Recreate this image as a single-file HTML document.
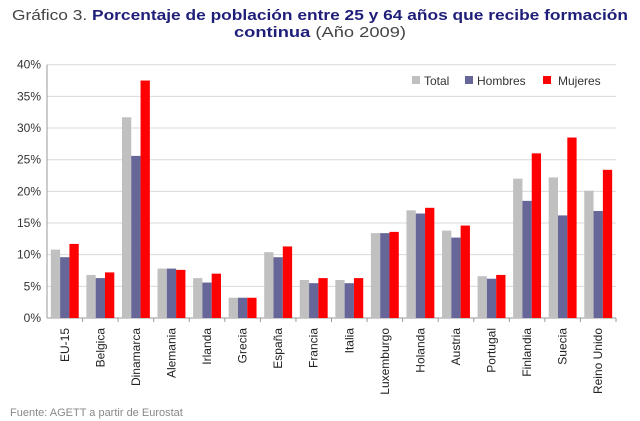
<!DOCTYPE html>
<html><head><meta charset="utf-8"><style>
html,body{margin:0;padding:0;background:#fff;}
svg{display:block;font-family:"Liberation Sans",sans-serif;}
</style></head><body>
<svg id="chart" width="640" height="421" viewBox="0 0 640 421" xmlns="http://www.w3.org/2000/svg">
<text x="320" y="20" text-anchor="middle" font-size="15" fill="#1f1f7a" textLength="616" lengthAdjust="spacingAndGlyphs"><tspan fill="#444" font-weight="normal">Gráfico 3. </tspan><tspan font-weight="bold">Porcentaje de población entre 25 y 64 años que recibe formación</tspan></text>
<text x="320" y="37" text-anchor="middle" font-size="15" fill="#1f1f7a" textLength="172" lengthAdjust="spacingAndGlyphs"><tspan font-weight="bold">continua</tspan><tspan fill="#444"> (Año 2009)</tspan></text>
<g id="grid"></g><g id="bars"></g><g id="axes"></g>
<g>
<rect x="412" y="76" width="8" height="8" fill="#c0c0c0"/>
<text x="424" y="85" font-size="12" fill="#333">Total</text>
<rect x="465" y="76" width="8" height="8" fill="#666699"/>
<text x="477" y="85" font-size="12" fill="#333">Hombres</text>
<rect x="543" y="76" width="8" height="8" fill="#ff0000"/>
<text x="558" y="85" font-size="12" fill="#333">Mujeres</text>
</g>
<text x="10" y="416" font-size="11" fill="#888">Fuente: AGETT a partir de Eurostat</text>
</svg>
<script>
const categories=["EU-15","Belgica","Dinamarca","Alemania","Irlanda","Grecia","España","Francia","Italia","Luxemburgo","Holanda","Austria","Portugal","Finlandia","Suecia","Reino Unido"];
const totalValues=[10.8,6.8,31.7,7.8,6.3,3.2,10.4,6.0,6.0,13.4,17.0,13.8,6.6,22.0,22.2,20.1];
const hombresValues=[9.6,6.3,25.6,7.8,5.6,3.2,9.6,5.5,5.5,13.4,16.5,12.7,6.2,18.5,16.2,16.9];
const mujeresValues=[11.7,7.2,37.5,7.6,7.0,3.2,11.3,6.3,6.3,13.6,17.4,14.6,6.8,26.0,28.5,23.4];
const yTicks=[0,5,10,15,20,25,30,35,40];
const NS="http://www.w3.org/2000/svg";
const x0=47,x1=616,y0=318,yTop=64.7,ymax=40;
const bw=(x1-x0)/categories.length;
const yS=v=>y0-(v/ymax)*(y0-yTop);
const xS=i=>x0+i*bw;
function mk(t,a,p){const e=document.createElementNS(NS,t);for(const k in a)e.setAttribute(k,a[k]);p.appendChild(e);return e;}
const grid=document.getElementById('grid'),bars=document.getElementById('bars'),axes=document.getElementById('axes');
yTicks.forEach(t=>{
  const y=yS(t);
  const l=mk('line',{x1:x0,x2:x1,y1:y,y2:y,stroke:t===0?'#999':'#d9d9d9','stroke-width':1},grid);
  
  
  const tx=mk('text',{x:x0-6,y:y+4,'text-anchor':'end','font-size':12,fill:'#333'},axes);
  tx.textContent=t+'%';
  
  
});
const ax=mk('line',{x1:x0,x2:x0,y1:yTop,y2:y0,stroke:'#999'},axes);


const series=[[totalValues,'#c0c0c0','total'],[hombresValues,'#666699','hombres'],[mujeresValues,'#ff0000','mujeres']];
const barW=9.3;
categories.forEach((c,i)=>{
  const start=xS(i)+(bw-3*barW)/2;
  series.forEach((s,j)=>{
    const v=s[0][i];
    const r=mk('rect',{x:start+j*barW,y:yS(v),width:barW,height:y0-yS(v),fill:s[1]},bars);
    
    
  });
  const tk=mk('line',{x1:xS(i+1),x2:xS(i+1),y1:y0,y2:y0+4,stroke:'#999'},axes);
  
  
  const cx=xS(i)+bw/2+4;
  const t=mk('text',{x:cx,y:y0+10,'text-anchor':'end','font-size':12,fill:'#222',transform:'rotate(-90 '+cx+' '+(y0+10)+')'},axes);
  t.textContent=c;
  
  
});
</script>
</body></html>
